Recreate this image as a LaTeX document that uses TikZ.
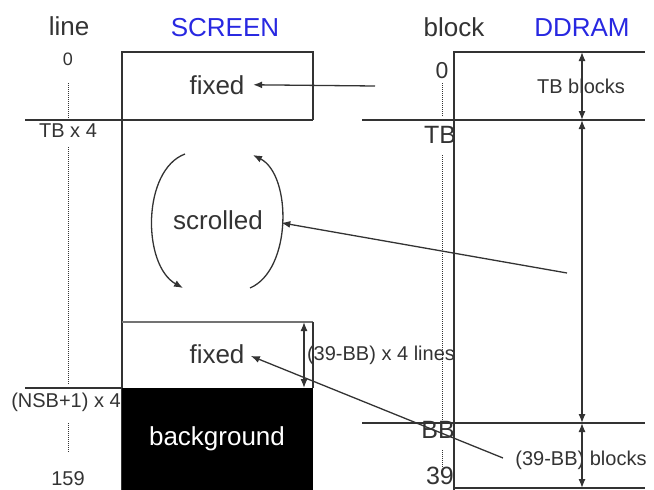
\documentclass[tikz,border=0pt]{standalone}
\usepackage{fontspec}
\setmainfont{Liberation Sans}
\usetikzlibrary{arrows.meta,positioning}
\definecolor{titleblue}{RGB}{40,40,225}

\begin{document}
\begin{tikzpicture}[x=1pt,y=-1pt,line width=1.5pt,color=black!80,
  big/.style={font=\fontsize{26}{28}\selectfont,inner sep=0pt,anchor=base},
  mid/.style={font=\fontsize{25}{27}\selectfont,inner sep=0pt,anchor=base},
  lbl/.style={font=\fontsize{20}{22}\selectfont,inner sep=0pt,anchor=base},
  tip/.style={line width=1.3pt,-{Latex[length=9pt,width=7pt]}},
  dimline/.style={line width=1.3pt,{Latex[length=9pt,width=7pt]}-{Latex[length=9pt,width=7pt]}},
  guide/.style={densely dotted,line width=1pt}]
  \useasboundingbox (0,0) rectangle (654,490);

  % screen side
  \draw (122,490) -- (122,52) -- (313,52) -- (313,120);
  \draw (25,120) -- (313,120);
  \draw[line width=2.2pt,black!55] (122,322) -- (313,322);
  \draw (313,322) -- (313,388);
  \draw (25,388) -- (122,388);
  \fill[black] (122,388) rectangle (313,490);
  \draw[guide] (68,83) -- (68,118) (68,147) -- (68,385) (68,423) -- (68,453);

  % ddram side
  \draw (454,490) -- (454,52) -- (645,52);
  \draw (362,120) -- (645,120);
  \draw (362,423) -- (645,423);
  \draw (454,488) -- (645,488);
  \draw[guide] (442,83) -- (442,117) (442,155) -- (442,420) (442,450) -- (442,468);

  % dimensions
  \draw[dimline] (582,52) -- (582,120);
  \draw[dimline] (582,120) -- (582,423);
  \draw[dimline] (582,423) -- (582,488);
  \draw[dimline] (304,322) -- (304,388);

  % headings and labels
  \node[big] (hline) at (69,35) {line};
  \node[big,text=titleblue] (hscreen) at (225,36) {SCREEN};
  \node[big] (hblock) at (454,36) {block};
  \node[big,text=titleblue] (hddram) at (582,36) {DDRAM};
  \node[lbl,font=\fontsize{18}{20}\selectfont] (l0) at (68,65) {0};
  \node[lbl] (ltb) at (68,137) {TB x 4};
  \node[lbl] (lnsb) at (66,407) {(NSB+1) x 4};
  \node[lbl] (l159) at (68,485) {159};
  \node[mid,font=\fontsize{23}{25}\selectfont] (b0) at (442,78) {0};
  \node[mid] (btb) at (440,143) {TB};
  \node[mid] (bbb) at (438,438) {BB};
  \node[mid] (b39) at (440,484) {39};
  \node[big] (fixtop) at (217,94) {fixed};
  \node[big] (scrolled) at (218,229) {scrolled};
  \node[big] (fixbot) at (217,363) {fixed};
  \node[big,text=white] (bground) at (217,445) {background};
  \node[lbl] (nlines) at (381,360) {(39-BB) x 4 lines};
  \node[lbl] (tbblocks) at (581,93) {TB blocks};
  \node[lbl] (bbblocks) at (581,465) {(39-BB) blocks};

  % mapping arrows
  \coordinate (srctop) at (375,86);
  \coordinate (srcmid) at (567,273);
  \coordinate (srcbot) at (503,458);
  \draw[tip,shorten >=8pt] (srctop) -- (fixtop.east);
  \draw[tip,shorten >=18pt] (srcmid) -- (scrolled.east);
  \draw[tip,shorten >=6pt] (srcbot) -- (fixbot.east);

  % scrolling
  \draw[tip] (185,154) .. controls (142,170) and (142,265) .. (183,288);
  \draw[tip] (250,288) .. controls (292,270) and (292,175) .. (253,155);
\end{tikzpicture}
\end{document}
